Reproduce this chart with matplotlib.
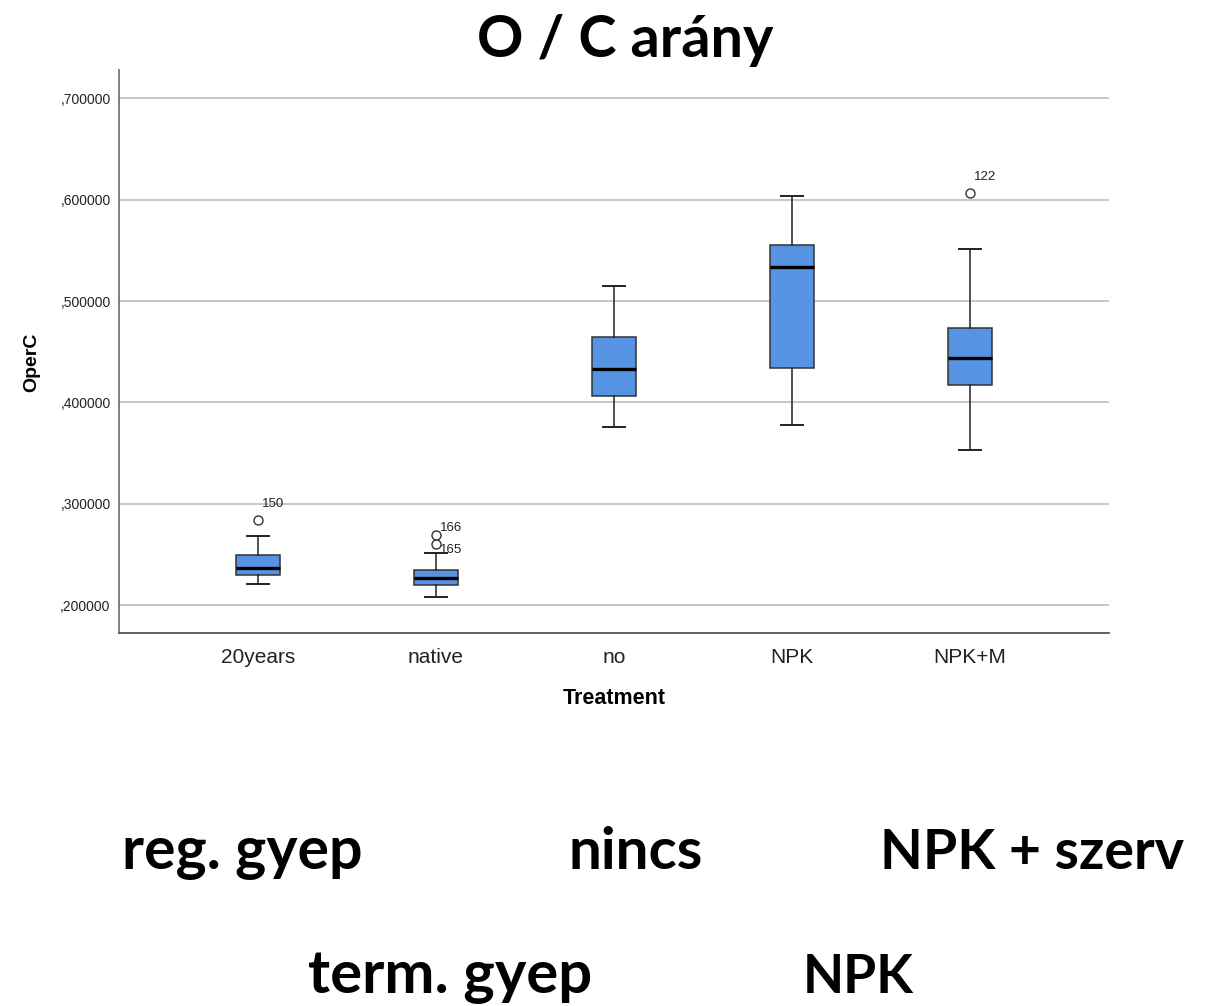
import matplotlib
matplotlib.use("Agg")
import matplotlib.pyplot as plt

# Treatment groups and box-plot summary statistics of O/C ratio
categories = ["20years", "native", "no", "NPK", "NPK+M"]
q1 = [0.2301, 0.2198, 0.4064, 0.4340, 0.4170]
median = [0.2370, 0.2265, 0.4331, 0.5335, 0.4436]
q3 = [0.2492, 0.2341, 0.4641, 0.5552, 0.4732]
whisker_low = [0.2209, 0.2077, 0.3758, 0.3775, 0.3528]
whisker_high = [0.2679, 0.2514, 0.5144, 0.6036, 0.5512]
outliers = [[0.2837], [0.2696, 0.2607], [], [], [0.6068]]
outlier_ids = [["150"], ["166", "165"], [], [], ["122"]]

y_ticks = [0.2, 0.3, 0.4, 0.5, 0.6, 0.7]
y_tick_labels = [",200000", ",300000", ",400000", ",500000", ",600000", ",700000"]

# Hungarian group names shown beneath the chart
group_row1 = ["reg. gyep", "nincs", "NPK + szerv"]
group_row2 = ["term. gyep", "NPK"]

W, H = 1211, 1006
fig = plt.figure(figsize=(W / 100, H / 100), dpi=100)
fig.patch.set_facecolor("white")

ax = fig.add_axes([119 / W, 1 - 633 / H, 990 / W, 563 / H])

stats = []
for i, c in enumerate(categories):
    stats.append(dict(label=c, med=median[i], q1=q1[i], q3=q3[i],
                      whislo=whisker_low[i], whishi=whisker_high[i],
                      fliers=outliers[i]))

positions = list(range(len(categories)))
ax.bxp(stats, positions=positions, widths=0.25, capwidths=0.125,
       patch_artist=True, showfliers=True,
       boxprops=dict(facecolor="#5694E3", edgecolor="#333333", linewidth=1.1),
       medianprops=dict(color="black", linewidth=2.4),
       whiskerprops=dict(color="#222222", linewidth=1.1),
       capprops=dict(color="#222222", linewidth=1.4),
       flierprops=dict(marker="o", markersize=6.5, markerfacecolor="white",
                       markeredgecolor="#333333", markeredgewidth=1.0),
       zorder=3)

# identifiers next to the outlying cases (label sits above the point,
# except when two cases crowd together and the lower one is labelled below)
for i, (vals, ids) in enumerate(zip(outliers, outlier_ids)):
    crowded = len(vals) > 1
    for k, (v, t) in enumerate(zip(vals, ids)):
        if crowded:
            dy = 4.5 if k == 0 else -4.5
        else:
            dy = 11.5
        ax.annotate(t, (positions[i], v), xytext=(3, dy), textcoords="offset points",
                    fontsize=9.5, color="#222222", family="Liberation Sans",
                    ha="left", va="center")

ax.set_xlim(-0.78, 4.78)
ax.set_ylim(0.1724, 0.728)
ax.set_yticks(y_ticks)
ax.set_yticklabels(y_tick_labels, fontsize=10, family="Liberation Sans", color="#222222")
ax.set_xticks(positions)
ax.set_xticklabels(categories, fontsize=15, family="Liberation Sans", color="#222222")
ax.tick_params(axis="y", length=0, pad=6)
ax.tick_params(axis="x", length=0, pad=11)

ax.yaxis.grid(True, color="#c8c8c8", linewidth=1.4, zorder=0)
ax.set_axisbelow(True)
for s in ["top", "right"]:
    ax.spines[s].set_visible(False)
ax.spines["left"].set_color("#777777")
ax.spines["bottom"].set_color("#555555")
ax.spines["left"].set_linewidth(1.3)
ax.spines["bottom"].set_linewidth(1.3)

ax.set_xlabel("Treatment", fontsize=15.5, fontweight="bold", family="Liberation Sans",
              labelpad=15)
ax.set_ylabel("OperC", fontsize=14, fontweight="bold", family="Liberation Sans")
ax.yaxis.set_label_coords(-0.080, 0.48)

# title and group captions
fig.text(625 / W, 1 - 57 / H, "O / C arány", fontsize=41.5, fontweight="bold",
         family="Lato", ha="center", va="baseline")

row1_x = [122, 568, 880]
row1_size = [42.5, 42, 40]
for x, t, s in zip(row1_x, group_row1, row1_size):
    fig.text(x / W, 1 - 869 / H, t, fontsize=s, fontweight="bold",
             family="Lato", ha="left", va="baseline")
row2_x = [308, 803]
row2_size = [43, 38.5]
for x, t, s in zip(row2_x, group_row2, row2_size):
    fig.text(x / W, 1 - 993 / H, t, fontsize=s, fontweight="bold",
             family="Lato", ha="left", va="baseline")

fig.savefig("out.png", dpi=100)
